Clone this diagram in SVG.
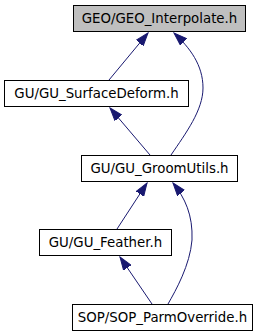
<svg xmlns="http://www.w3.org/2000/svg" width="259" height="336" viewBox="0 0 259 336">
<style>
.box{fill:#ffffff;stroke:#000000;stroke-width:1}
.root{fill:#bfbfbf}
.lbl{font-family:"DejaVu Sans",sans-serif;font-size:13.33px;fill:#000000;text-anchor:middle}
.edge{fill:none;stroke:#191970;stroke-width:1}
</style>
<defs>
<marker id="ah" markerUnits="userSpaceOnUse" markerWidth="14" markerHeight="10" refX="13" refY="5" orient="auto">
<path d="M0,0.5 L13,5 L0,9.5 z" fill="#191970" stroke="#191970" stroke-width="1"/>
</marker>
</defs>
<g id="edges">
<path class="edge" d="M109,80 L148,33" marker-end="url(#ah)"/>
<path class="edge" d="M171,155 C186,133 203,110 203,88 C203,65 190,48 174,33" marker-end="url(#ah)"/>
<path class="edge" d="M150,155 L110,108" marker-end="url(#ah)"/>
<path class="edge" d="M117,229 L147,183" marker-end="url(#ah)"/>
<path class="edge" d="M168,304 C176,290 190,265 192,240 C193,215 185,198 173,183" marker-end="url(#ah)"/>
<path class="edge" d="M152,304 L120,257" marker-end="url(#ah)"/>
</g>
<g id="node1">
<rect class="box root" x="73.5" y="5.5" width="172" height="26"/>
<text class="lbl" x="159.5" y="23">GEO/GEO_Interpolate.h</text>
</g>
<g id="node2">
<rect class="box" x="4.5" y="80.5" width="184" height="26"/>
<text class="lbl" x="96.5" y="98">GU/GU_SurfaceDeform.h</text>
</g>
<g id="node3">
<rect class="box" x="81.5" y="155.5" width="156" height="26"/>
<text class="lbl" x="159.5" y="173">GU/GU_GroomUtils.h</text>
</g>
<g id="node4">
<rect class="box" x="39.5" y="229.5" width="132" height="26"/>
<text class="lbl" x="105.5" y="247">GU/GU_Feather.h</text>
</g>
<g id="node5">
<rect class="box" x="72.5" y="304.5" width="180" height="26"/>
<text class="lbl" x="162.5" y="322">SOP/SOP_ParmOverride.h</text>
</g>
</svg>
